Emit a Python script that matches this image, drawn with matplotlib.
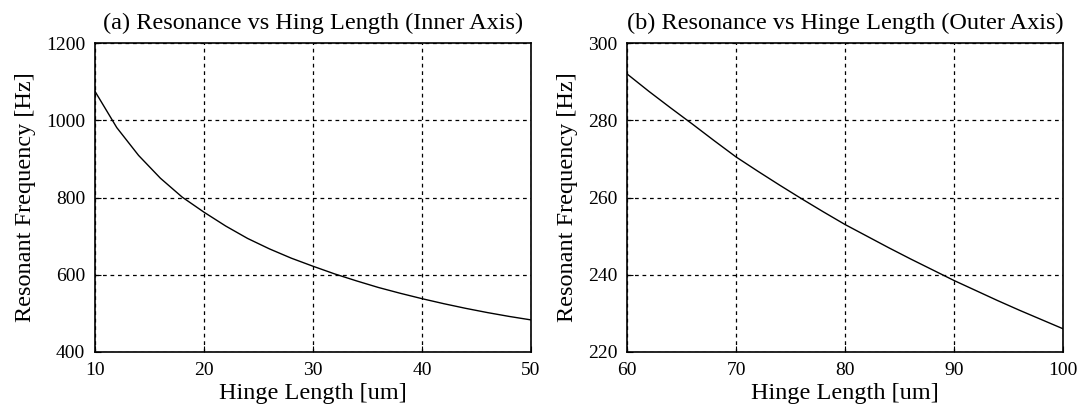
import numpy as np
import matplotlib.pyplot as plt

plt.rcParams['font.family'] = ['Liberation Serif', 'DejaVu Serif']

# inner axis hinge
len_inner = [10, 12, 14, 16, 18, 20, 22, 24, 26, 28, 30, 32, 34, 36, 38, 40, 42, 44, 46, 48, 50]
freq_inner = [1075, 981, 909, 850, 801, 762, 726, 694, 667, 643, 622, 602, 584, 567, 552, 538, 525, 513, 502, 492, 483]

# outer axis hinge
len_outer = [60, 62, 64, 66, 68, 70, 72, 74, 76, 78, 80, 82, 84, 86, 88, 90, 92, 94, 96, 98, 100]
freq_outer = [292, 287.5, 283.2, 279, 274.7, 270.5, 266.8, 263.2, 259.7, 256.3, 253, 250, 247, 244.1, 241.3,
              238.5, 235.9, 233.3, 230.8, 228.4, 226]

fig = plt.figure(figsize=(10.83, 4.18), dpi=100)
ax1 = fig.add_axes([0.0877, 0.158, 0.4026, 0.739])
ax2 = fig.add_axes([0.579, 0.158, 0.4026, 0.739])

panels = [
    (ax1, len_inner, freq_inner, (10, 50), (400, 1200), [10, 20, 30, 40, 50], [400, 600, 800, 1000, 1200],
     '(a) Resonance vs Hing Length (Inner Axis)'),
    (ax2, len_outer, freq_outer, (60, 100), (220, 300), [60, 70, 80, 90, 100], [220, 240, 260, 280, 300],
     '(b) Resonance vs Hinge Length (Outer Axis)'),
]

for ax, x, y, xl, yl, xt, yt, title in panels:
    ax.plot(x, y, color='black', lw=1)
    ax.set_xlim(xl)
    ax.set_ylim(yl)
    ax.set_xticks(xt)
    ax.set_yticks(yt)
    ax.grid(True, color='black', linestyle=(0, (3, 3)), lw=0.9)
    ax.tick_params(direction='in', length=4, labelsize=14, pad=7)
    ax.set_xlabel('Hinge Length [um]', fontsize=17.5, labelpad=3)
    ax.set_ylabel('Resonant Frequency [Hz]', fontsize=17.5, labelpad=7)
    ax.set_title(title, fontsize=17.5, pad=10)
    for s in ax.spines.values():
        s.set_linewidth(1.2)

fig.savefig('out.png', dpi=100)
